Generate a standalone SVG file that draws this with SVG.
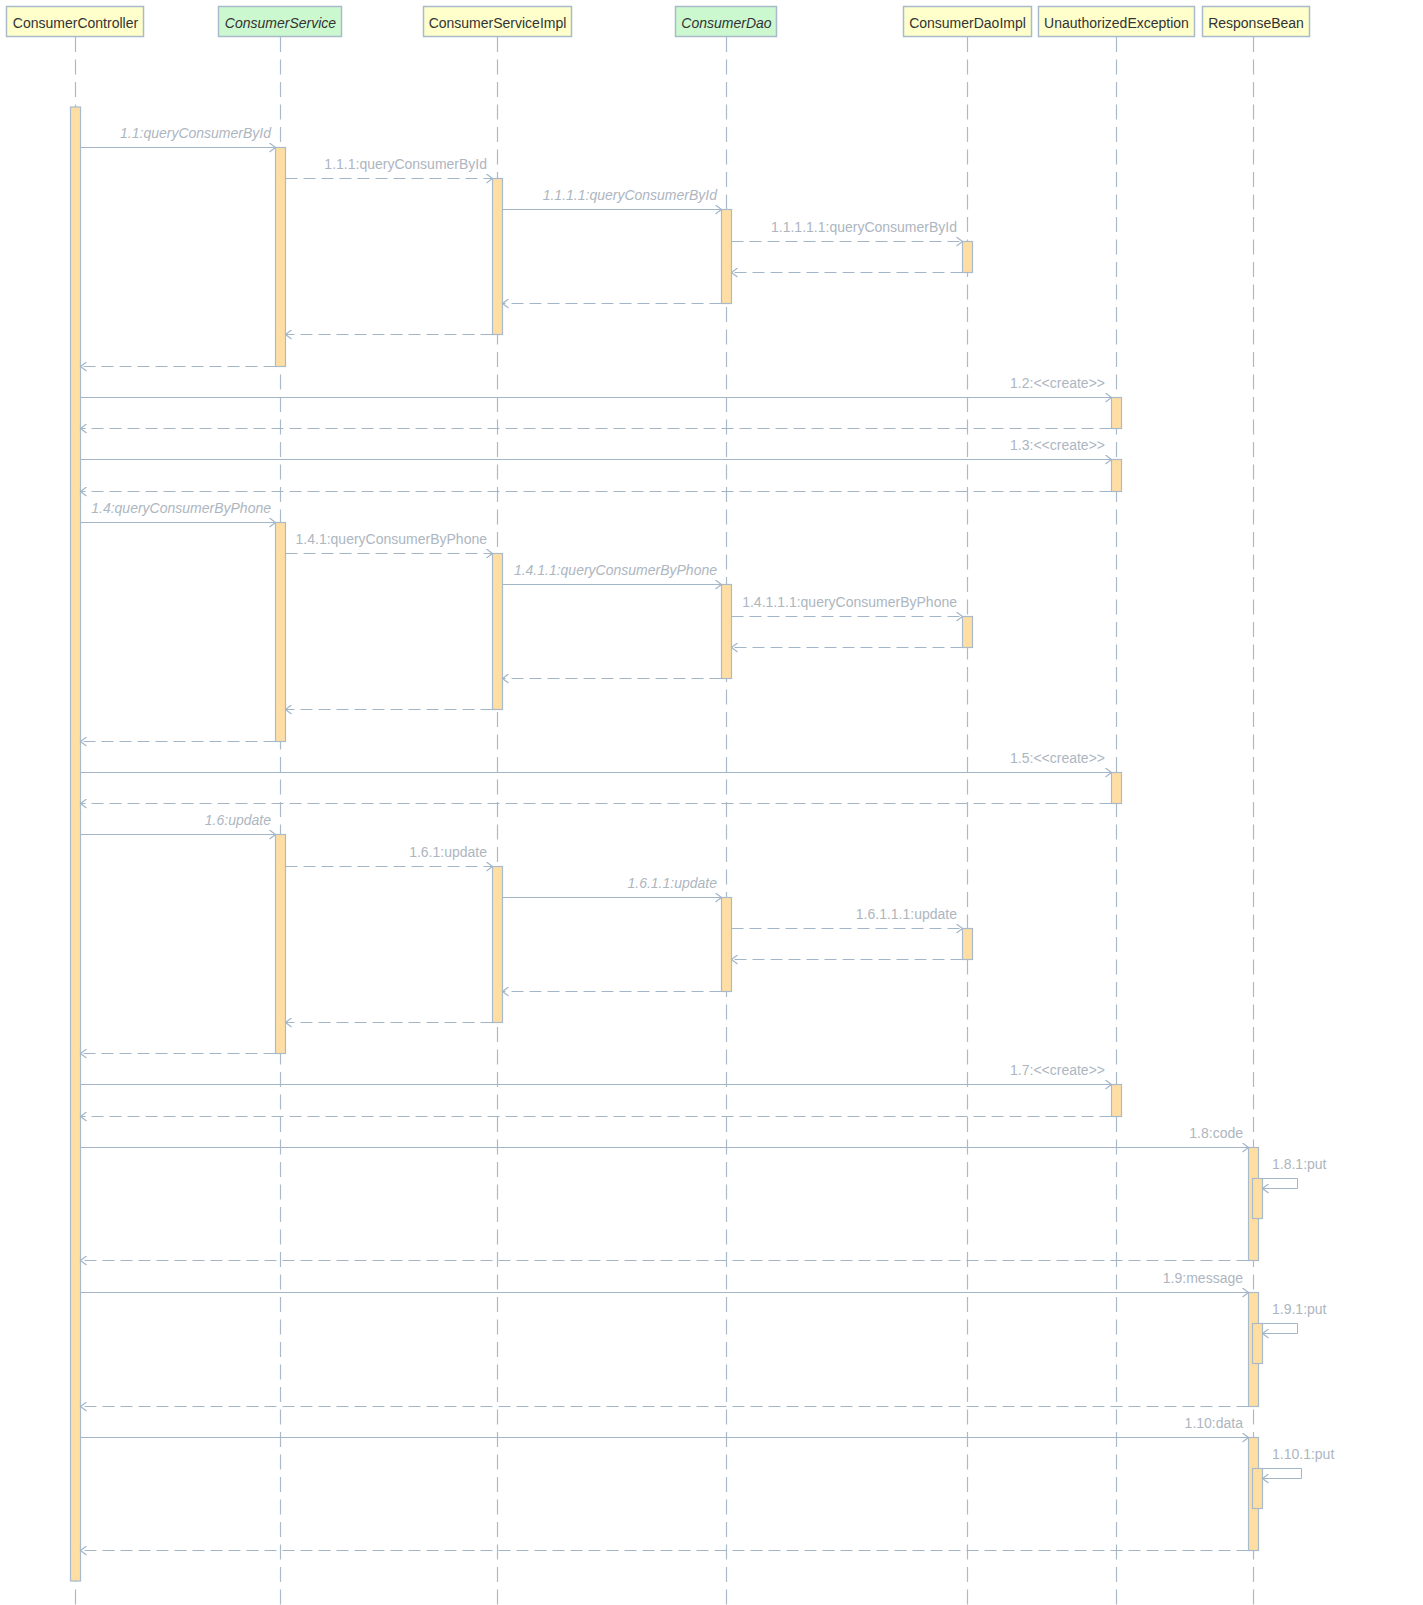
<svg xmlns="http://www.w3.org/2000/svg" width="1423" height="1605" viewBox="0 0 1423 1605">
<defs>
<style>
.hd{stroke:#A9BBCB;stroke-width:1.5}
.y{fill:#FFFFCC}
.g{fill:#CCF8D0}
.ht{font-family:"Liberation Sans",Arial,sans-serif;font-size:14px;fill:#333333;text-anchor:middle}
.it{font-style:italic}
.ll{stroke:#A9BBCB;stroke-width:1.2;stroke-dasharray:15,7.5;fill:none}
.act{fill:#FFDEA3;stroke:#A9BBCB;stroke-width:1.2}
.m{stroke:#A3B6C7;stroke-width:1;fill:none}
.d{stroke-dasharray:12,6}
.lb{font-family:"Liberation Sans",Arial,sans-serif;font-size:14px;fill:#ADB6BF;text-anchor:end}
.ls{text-anchor:start}
</style>
<marker id="ah" markerUnits="userSpaceOnUse" markerWidth="10" markerHeight="10" refX="7" refY="5" orient="auto" viewBox="0 0 10 10">
<path d="M1,0.5 L7,5 L1,9.5" fill="none" stroke="#A3B6C7" stroke-width="1.2"/>
</marker>
</defs>
<rect width="1423" height="1605" fill="#FFFFFF"/>

<g id="lifelines">
<line class="ll" x1="75.5" y1="37" x2="75.5" y2="1605"/>
<line class="ll" x1="280.5" y1="37" x2="280.5" y2="1605"/>
<line class="ll" x1="497.5" y1="37" x2="497.5" y2="1605"/>
<line class="ll" x1="726.5" y1="37" x2="726.5" y2="1605"/>
<line class="ll" x1="967.5" y1="37" x2="967.5" y2="1605"/>
<line class="ll" x1="1116.5" y1="37" x2="1116.5" y2="1605"/>
<line class="ll" x1="1253.5" y1="37" x2="1253.5" y2="1605"/>
</g>

<g id="ConsumerController">
<rect class="hd y" x="6.5" y="6.5" width="137" height="30"/>
<text class="ht" x="75.5" y="28">ConsumerController</text>
<rect class="act" x="70.5" y="107" width="10" height="1474"/>
</g>
<g id="ConsumerService">
<rect class="hd g" x="218.5" y="6.5" width="123" height="30"/>
<text class="ht it" x="280.5" y="28">ConsumerService</text>
<rect class="act" x="275.5" y="147.5" width="10" height="219"/>
<rect class="act" x="275.5" y="522.5" width="10" height="219"/>
<rect class="act" x="275.5" y="834.5" width="10" height="219"/>
</g>
<g id="ConsumerServiceImpl">
<rect class="hd y" x="423.5" y="6.5" width="148" height="30"/>
<text class="ht" x="497.5" y="28">ConsumerServiceImpl</text>
<rect class="act" x="492.5" y="178.5" width="10" height="156"/>
<rect class="act" x="492.5" y="553.5" width="10" height="156"/>
<rect class="act" x="492.5" y="866.5" width="10" height="156"/>
</g>
<g id="ConsumerDao">
<rect class="hd g" x="675.5" y="6.5" width="101" height="30"/>
<text class="ht it" x="726.5" y="28">ConsumerDao</text>
<rect class="act" x="721.5" y="209.5" width="10" height="94"/>
<rect class="act" x="721.5" y="584.5" width="10" height="94"/>
<rect class="act" x="721.5" y="897.5" width="10" height="94"/>
</g>
<g id="ConsumerDaoImpl">
<rect class="hd y" x="903.5" y="6.5" width="128" height="30"/>
<text class="ht" x="967.5" y="28">ConsumerDaoImpl</text>
<rect class="act" x="962.5" y="241.5" width="10" height="31"/>
<rect class="act" x="962.5" y="616.5" width="10" height="31"/>
<rect class="act" x="962.5" y="928.5" width="10" height="31"/>
</g>
<g id="UnauthorizedException">
<rect class="hd y" x="1038.5" y="6.5" width="156" height="30"/>
<text class="ht" x="1116.5" y="28">UnauthorizedException</text>
<rect class="act" x="1111.5" y="397.5" width="10" height="31"/>
<rect class="act" x="1111.5" y="459.5" width="10" height="32"/>
<rect class="act" x="1111.5" y="772.5" width="10" height="31"/>
<rect class="act" x="1111.5" y="1084.5" width="10" height="32"/>
</g>
<g id="ResponseBean">
<rect class="hd y" x="1202.5" y="6.5" width="107" height="30"/>
<text class="ht" x="1256" y="28">ResponseBean</text>
<rect class="act" x="1248.5" y="1147.5" width="10" height="113"/>
<rect class="act" x="1252.5" y="1178.5" width="10" height="40"/>
<rect class="act" x="1248.5" y="1292.5" width="10" height="114"/>
<rect class="act" x="1252.5" y="1323.5" width="10" height="40"/>
<rect class="act" x="1248.5" y="1437.5" width="10" height="113"/>
<rect class="act" x="1252.5" y="1468.5" width="10" height="40"/>
</g>

<g id="connectors">
<!-- 1.1 block -->
<line class="m" x1="80.5" y1="147.5" x2="275.5" y2="147.5" marker-end="url(#ah)"/>
<text class="lb it" x="271" y="137.5">1.1:queryConsumerById</text>
<line class="m d" x1="285.5" y1="178.5" x2="492.5" y2="178.5" marker-end="url(#ah)"/>
<text class="lb" x="487" y="168.5">1.1.1:queryConsumerById</text>
<line class="m" x1="502.5" y1="209.5" x2="721.5" y2="209.5" marker-end="url(#ah)"/>
<text class="lb it" x="717" y="199.5">1.1.1.1:queryConsumerById</text>
<line class="m d" x1="731.5" y1="241.5" x2="962.5" y2="241.5" marker-end="url(#ah)"/>
<text class="lb" x="957" y="231.5">1.1.1.1.1:queryConsumerById</text>
<line class="m d" x1="962.5" y1="272.5" x2="731.5" y2="272.5" marker-end="url(#ah)"/>
<line class="m d" x1="721.5" y1="303.5" x2="502.5" y2="303.5" marker-end="url(#ah)"/>
<line class="m d" x1="492.5" y1="334.5" x2="285.5" y2="334.5" marker-end="url(#ah)"/>
<line class="m d" x1="275.5" y1="366.5" x2="80.5" y2="366.5" marker-end="url(#ah)"/>
<!-- 1.2 / 1.3 -->
<line class="m" x1="80.5" y1="397.5" x2="1111.5" y2="397.5" marker-end="url(#ah)"/>
<text class="lb" x="1105" y="387.5">1.2:&lt;&lt;create&gt;&gt;</text>
<line class="m d" x1="1111.5" y1="428.5" x2="80.5" y2="428.5" marker-end="url(#ah)"/>
<line class="m" x1="80.5" y1="459.5" x2="1111.5" y2="459.5" marker-end="url(#ah)"/>
<text class="lb" x="1105" y="449.5">1.3:&lt;&lt;create&gt;&gt;</text>
<line class="m d" x1="1111.5" y1="491.5" x2="80.5" y2="491.5" marker-end="url(#ah)"/>
<!-- 1.4 block -->
<line class="m" x1="80.5" y1="522.5" x2="275.5" y2="522.5" marker-end="url(#ah)"/>
<text class="lb it" x="271" y="512.5">1.4:queryConsumerByPhone</text>
<line class="m d" x1="285.5" y1="553.5" x2="492.5" y2="553.5" marker-end="url(#ah)"/>
<text class="lb" x="487" y="543.5">1.4.1:queryConsumerByPhone</text>
<line class="m" x1="502.5" y1="584.5" x2="721.5" y2="584.5" marker-end="url(#ah)"/>
<text class="lb it" x="717" y="574.5">1.4.1.1:queryConsumerByPhone</text>
<line class="m d" x1="731.5" y1="616.5" x2="962.5" y2="616.5" marker-end="url(#ah)"/>
<text class="lb" x="957" y="606.5">1.4.1.1.1:queryConsumerByPhone</text>
<line class="m d" x1="962.5" y1="647.5" x2="731.5" y2="647.5" marker-end="url(#ah)"/>
<line class="m d" x1="721.5" y1="678.5" x2="502.5" y2="678.5" marker-end="url(#ah)"/>
<line class="m d" x1="492.5" y1="709.5" x2="285.5" y2="709.5" marker-end="url(#ah)"/>
<line class="m d" x1="275.5" y1="741.5" x2="80.5" y2="741.5" marker-end="url(#ah)"/>
<!-- 1.5 -->
<line class="m" x1="80.5" y1="772.5" x2="1111.5" y2="772.5" marker-end="url(#ah)"/>
<text class="lb" x="1105" y="762.5">1.5:&lt;&lt;create&gt;&gt;</text>
<line class="m d" x1="1111.5" y1="803.5" x2="80.5" y2="803.5" marker-end="url(#ah)"/>
<!-- 1.6 block -->
<line class="m" x1="80.5" y1="834.5" x2="275.5" y2="834.5" marker-end="url(#ah)"/>
<text class="lb it" x="271" y="824.5">1.6:update</text>
<line class="m d" x1="285.5" y1="866.5" x2="492.5" y2="866.5" marker-end="url(#ah)"/>
<text class="lb" x="487" y="856.5">1.6.1:update</text>
<line class="m" x1="502.5" y1="897.5" x2="721.5" y2="897.5" marker-end="url(#ah)"/>
<text class="lb it" x="717" y="887.5">1.6.1.1:update</text>
<line class="m d" x1="731.5" y1="928.5" x2="962.5" y2="928.5" marker-end="url(#ah)"/>
<text class="lb" x="957" y="918.5">1.6.1.1.1:update</text>
<line class="m d" x1="962.5" y1="959.5" x2="731.5" y2="959.5" marker-end="url(#ah)"/>
<line class="m d" x1="721.5" y1="991.5" x2="502.5" y2="991.5" marker-end="url(#ah)"/>
<line class="m d" x1="492.5" y1="1022.5" x2="285.5" y2="1022.5" marker-end="url(#ah)"/>
<line class="m d" x1="275.5" y1="1053.5" x2="80.5" y2="1053.5" marker-end="url(#ah)"/>
<!-- 1.7 -->
<line class="m" x1="80.5" y1="1084.5" x2="1111.5" y2="1084.5" marker-end="url(#ah)"/>
<text class="lb" x="1105" y="1074.5">1.7:&lt;&lt;create&gt;&gt;</text>
<line class="m d" x1="1111.5" y1="1116.5" x2="80.5" y2="1116.5" marker-end="url(#ah)"/>
<!-- 1.8 -->
<line class="m" x1="80.5" y1="1147.5" x2="1248.5" y2="1147.5" marker-end="url(#ah)"/>
<text class="lb" x="1243" y="1137.5">1.8:code</text>
<polyline class="m" points="1262.5,1178.5 1297.5,1178.5 1297.5,1188.5 1262.5,1188.5" marker-end="url(#ah)"/>
<text class="lb ls" x="1272" y="1168.5">1.8.1:put</text>
<line class="m d" x1="1248.5" y1="1260.5" x2="80.5" y2="1260.5" marker-end="url(#ah)"/>
<!-- 1.9 -->
<line class="m" x1="80.5" y1="1292.5" x2="1248.5" y2="1292.5" marker-end="url(#ah)"/>
<text class="lb" x="1243" y="1282.5">1.9:message</text>
<polyline class="m" points="1262.5,1323.5 1297.5,1323.5 1297.5,1333.5 1262.5,1333.5" marker-end="url(#ah)"/>
<text class="lb ls" x="1272" y="1313.5">1.9.1:put</text>
<line class="m d" x1="1248.5" y1="1406.5" x2="80.5" y2="1406.5" marker-end="url(#ah)"/>
<!-- 1.10 -->
<line class="m" x1="80.5" y1="1437.5" x2="1248.5" y2="1437.5" marker-end="url(#ah)"/>
<text class="lb" x="1243" y="1427.5">1.10:data</text>
<polyline class="m" points="1262.5,1468.5 1301.5,1468.5 1301.5,1478.5 1262.5,1478.5" marker-end="url(#ah)"/>
<text class="lb ls" x="1272" y="1458.5">1.10.1:put</text>
<line class="m d" x1="1248.5" y1="1550.5" x2="80.5" y2="1550.5" marker-end="url(#ah)"/>
</g>
</svg>
